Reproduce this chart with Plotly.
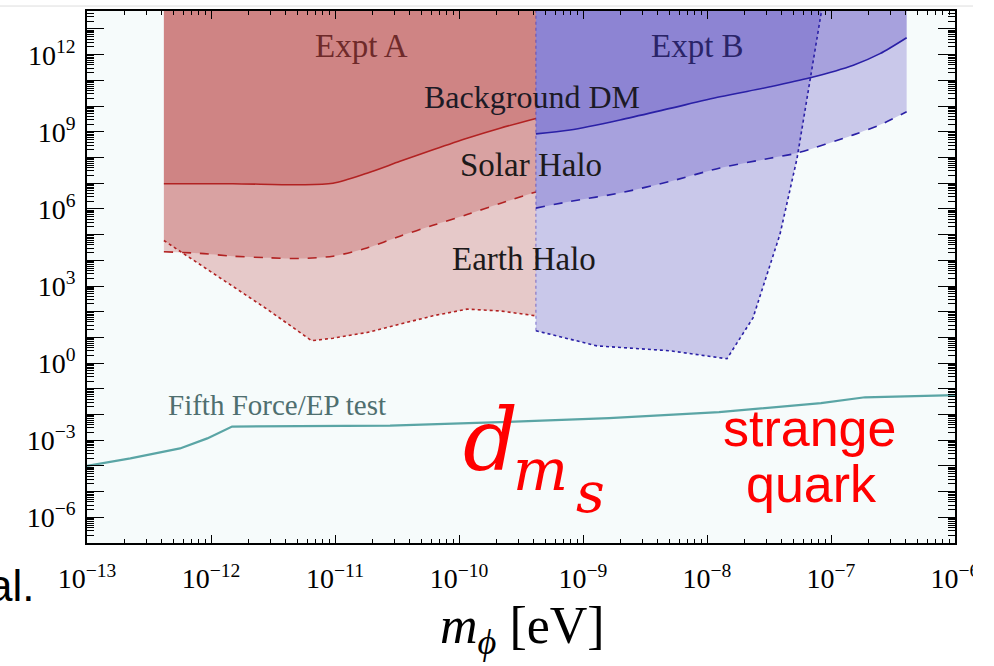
import numpy as np
import plotly.graph_objects as go

# ---------------- data (log10 of m_phi [eV], log10 of coupling) ----------------
# Expt A
a_bg_x = [-12.38, -11.823, -11.282, -11.016, -10.742, -10.476, -10.21, -9.935, -9.669, -9.38]
a_bg_y = [6.98, 6.98, 6.94, 7.00, 7.39, 7.85, 8.30, 8.75, 9.14, 9.52]
a_sol_x = [-12.38, -12.089, -11.823, -11.548, -11.282, -11.016, -10.742, -10.476, -10.21, -9.935, -9.669, -9.38]
a_sol_y = [4.33, 4.27, 4.16, 4.10, 4.07, 4.16, 4.48, 4.94, 5.36, 5.78, 6.21, 6.66]
a_earth_x = [-12.38, -12.089, -11.823, -11.548, -11.188, -11.016, -10.742, -10.476, -10.21, -9.935, -9.669, -9.38]
a_earth_y = [4.77, 3.84, 3.00, 2.10, 0.87, 0.97, 1.19, 1.52, 1.84, 2.10, 2.03, 1.84]

# Expt B
b_bg_x = [-9.38, -9.105, -8.702, -8.298, -7.895, -7.492, -7.169, -6.82, -6.605, -6.39]
b_bg_y = [8.92, 9.07, 9.46, 9.91, 10.36, 10.75, 11.10, 11.59, 12.04, 12.66]
b_sol_x = [-9.38, -9.105, -8.702, -8.298, -7.895, -7.492, -7.277, -6.82, -6.605, -6.39]
b_sol_y = [6.03, 6.29, 6.62, 7.07, 7.59, 7.97, 8.17, 8.88, 9.27, 9.78]
b_earth_x = [-9.38, -8.887, -8.298, -7.839, -7.629, -7.411, -7.274, -7.169, -7.073, -7.04]
b_earth_y = [1.26, 0.67, 0.48, 0.17, 1.76, 5.02, 7.96, 11.06, 13.8, 14.5]

# Fifth force / equivalence-principle bound
ff_x = [-13.0, -12.65, -12.25, -12.03, -11.83, -10.556, -9.669, -8.79, -7.903, -7.081, -6.726, -6.048, -6.0]
ff_y = [-4.0, -3.71, -3.32, -2.93, -2.47, -2.43, -2.30, -2.14, -1.91, -1.56, -1.33, -1.26, -1.25]

x_decades = list(range(-13, -5))          # -13 .. -6
y_decades = list(range(-7, 14))           # -7 .. 13
y_labelled = list(range(-6, 13, 3))       # -6, -3, ..., 12
TOP = 15.0                                # fills run past the top of the frame

RED_FILL = "rgba(178,36,36,0.23)"
BLUE_FILL = "rgba(60,40,180,0.245)"
RED_LINE = "#b22222"
BLUE_LINE = "#2a20a6"
TEAL = "#5aa5a5"
SERIF = "Liberation Serif"


def p10(v):
    return np.power(10.0, np.asarray(v, dtype=float))


fig = go.Figure()

# shaded exclusion regions: each curve filled up to the top of the frame
bands = [
    (a_earth_x, a_earth_y, RED_FILL, "linear"),
    (a_sol_x, a_sol_y, RED_FILL, "spline"),
    (a_bg_x, a_bg_y, RED_FILL, "spline"),
    (b_earth_x, b_earth_y, BLUE_FILL, "linear"),
    (b_sol_x, b_sol_y, BLUE_FILL, "spline"),
    (b_bg_x, b_bg_y, BLUE_FILL, "spline"),
]
for xs, ys, col, shape in bands:
    fig.add_trace(go.Scatter(x=p10([xs[0], xs[-1]]), y=p10([TOP, TOP]), mode="lines",
                             line=dict(width=0), hoverinfo="skip", showlegend=False))
    fig.add_trace(go.Scatter(x=p10(xs), y=p10(ys), mode="lines", fill="tonexty", fillcolor=col,
                             line=dict(width=0, shape=shape, smoothing=0.8),
                             hoverinfo="skip", showlegend=False))

# boundary curves
curves = [
    (a_bg_x, a_bg_y, RED_LINE, "solid", 1.6, "spline"),
    (a_sol_x, a_sol_y, RED_LINE, "dash", 1.6, "spline"),
    (a_earth_x, a_earth_y, RED_LINE, "dot", 1.6, "linear"),
    (b_bg_x, b_bg_y, BLUE_LINE, "solid", 1.6, "spline"),
    (b_sol_x, b_sol_y, BLUE_LINE, "dash", 1.6, "spline"),
    (b_earth_x, b_earth_y, BLUE_LINE, "dot", 1.6, "linear"),
    (ff_x, ff_y, TEAL, "solid", 2.2, "linear"),
]
for xs, ys, col, dash, w, shape in curves:
    fig.add_trace(go.Scatter(x=p10(xs), y=p10(ys), mode="lines",
                             line=dict(color=col, dash=dash, width=w, shape=shape, smoothing=0.8),
                             hoverinfo="skip", showlegend=False))

# left edge of Expt B (dotted)
fig.add_trace(go.Scatter(x=p10([b_earth_x[0], b_earth_x[0]]), y=p10([b_earth_y[0], TOP]),
                         mode="lines", line=dict(color="rgba(60,40,180,0.5)", dash="dot", width=1.2),
                         hoverinfo="skip", showlegend=False))


def sup_label(e):
    s = str(e).replace("-", "\u2212")
    return f"10<sup>{s}</sup>"


x_minor = [k * 10.0 ** d for d in x_decades[:-1] for k in range(2, 10)]
y_minor = [k * 10.0 ** d for d in y_decades for k in range(2, 10)]

fig.update_xaxes(
    type="log", range=[-13, -6],
    tickmode="array", tickvals=[10.0 ** d for d in x_decades],
    ticktext=[sup_label(d) for d in x_decades],
    ticks="inside", ticklen=8, tickwidth=1, tickcolor="black",
    minor=dict(tickmode="array", tickvals=x_minor, ticks="inside", ticklen=4,
               tickwidth=1, tickcolor="black", showgrid=False),
    showline=True, linecolor="black", linewidth=1.5, mirror="ticks",
    showgrid=False, zeroline=False,
    tickfont=dict(family=SERIF, size=28, color="black"),
    ticklabelstandoff=10,
)
fig.update_yaxes(
    type="log", range=[-7, 13.7],
    tickmode="array", tickvals=[10.0 ** d for d in y_decades],
    ticktext=[sup_label(d) if d in y_labelled else "" for d in y_decades],
    ticks="inside", ticklen=17, tickwidth=1, tickcolor="black",
    minor=dict(tickmode="array", tickvals=y_minor, ticks="inside", ticklen=7,
               tickwidth=1, tickcolor="black", showgrid=False),
    showline=True, linecolor="black", linewidth=1.5, mirror="ticks",
    showgrid=False, zeroline=False,
    tickfont=dict(family=SERIF, size=28, color="black"),
    ticklabelstandoff=4,
)

L, R, T, B = 87, 39, 9, 123
W, H = 994, 666
PW, PH = W - L - R, H - T - B


def fx(px):
    return (px - L) / PW


def fy(py):
    return (H - B - py) / PH


def note(text, x, y, size, color, family=SERIF, xanchor="center"):
    fig.add_annotation(text=text, x=fx(x), y=fy(y), xref="paper", yref="paper",
                       showarrow=False, xanchor=xanchor, yanchor="middle",
                       font=dict(family=family, size=size, color=color))


note("Expt A", 361, 44, 33, "#6e2a2a")
note("Expt B", 697, 44, 33, "#2a2468")
note("Background DM", 532, 95, 32, "#1c1a26")
note("Solar Halo", 531, 164, 33, "#1c1a1a")
note("Earth Halo", 524, 258, 33, "#1c1a1a")
note("Fifth Force/EP test", 277, 404, 29, "#4f6f6f")

# coupling label
note("<i>d</i>", 490, 440, 86, "#ff0000", family="DejaVu Serif")
note("<i>m</i>", 540, 470, 58, "#ff0000", family="DejaVu Serif")
note("<i>s</i>", 590, 492, 56, "#ff0000", family="DejaVu Serif")
note("strange", 809, 428, 52, "#ff0000", family="Liberation Sans")
note("quark", 811, 484, 52, "#ff0000", family="Liberation Sans")

# axis title
note("<i>m</i><sub><i>\u03d5</i></sub> [eV]", 522, 630, 52, "black")

# fragment of caption text at the left margin
note("al.", 36, 586, 44, "black", family="Liberation Sans", xanchor="right")

# thin rule at the top and the cropped right strip
fig.add_shape(type="line", xref="paper", yref="paper", x0=fx(0), x1=fx(973), y0=fy(4), y1=fy(4),
              line=dict(color="#dddddd", width=1))
fig.add_shape(type="rect", xref="paper", yref="paper", x0=fx(973), x1=fx(1000), y0=fy(0), y1=fy(666),
              fillcolor="white", line=dict(width=0), layer="above")

fig.update_layout(
    width=W, height=H,
    margin=dict(l=L, r=R, t=T, b=B),
    plot_bgcolor="#f6fbfb", paper_bgcolor="white",
    showlegend=False,
)

fig.write_html("out.html")
